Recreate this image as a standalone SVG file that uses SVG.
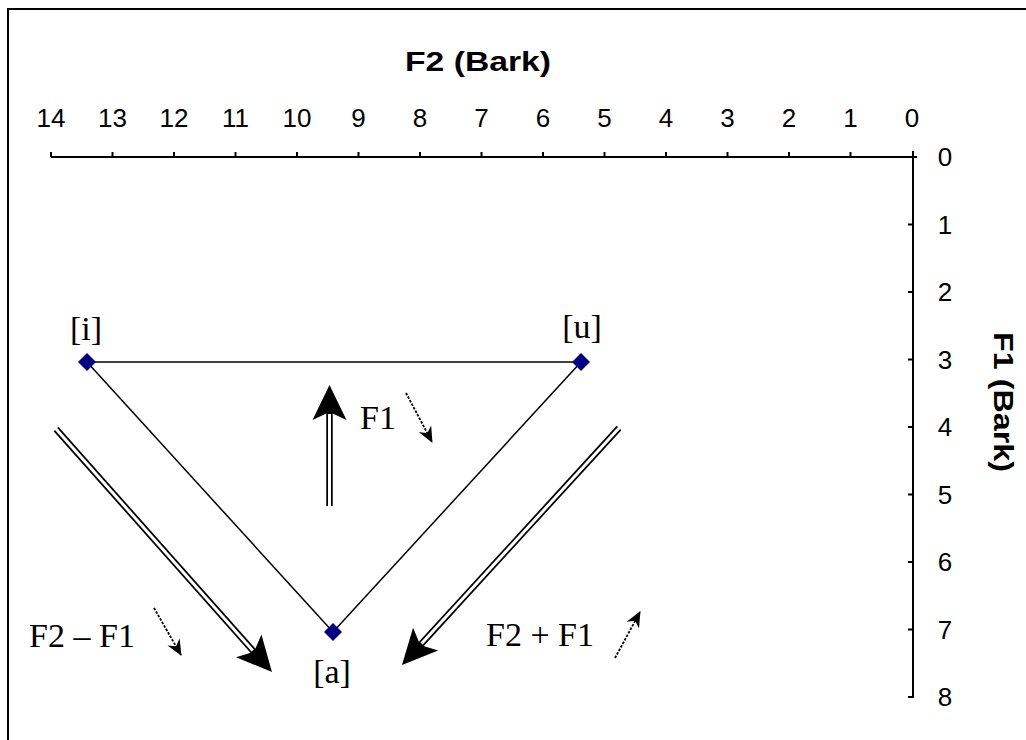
<svg xmlns="http://www.w3.org/2000/svg" width="1026" height="740" viewBox="0 0 1026 740">
<style>
.ax{stroke:#000;stroke-width:2;fill:none}
.num{font-family:"Liberation Sans",Arial,sans-serif;font-size:26px;fill:#000;text-anchor:middle}
.title{font-family:"Liberation Sans",Arial,sans-serif;font-size:27px;font-weight:bold;fill:#000;text-anchor:middle}
.lbl{font-family:"Liberation Serif","Times New Roman",serif;font-size:34px;fill:#000;text-anchor:middle}
.edge{stroke:#000;stroke-width:1.5;fill:none}
.outer{stroke:#000;stroke-width:6.5;fill:none}
.inner{stroke:#fff;stroke-width:3;fill:none}
.dot{stroke:#000;stroke-width:1.8;stroke-dasharray:2.5 1.5;fill:none}
.pt{fill:#000080}
</style>
<defs>
<marker id="big" markerUnits="userSpaceOnUse" orient="auto" refX="-20" refY="0" markerWidth="50" markerHeight="40" overflow="visible">
<path d="M0,0 L-35,-17 L-27,0 L-35,17 Z" fill="#000"/>
</marker>
<marker id="small" markerUnits="userSpaceOnUse" orient="auto" refX="0" refY="0" markerWidth="20" markerHeight="20" overflow="visible">
<path d="M1,0 L-15,-7 L-10,0 L-15,7 Z" fill="#000"/>
</marker>
<path id="dia" d="M0,-9 L9,0 L0,9 L-9,0 Z"/>
</defs>
<rect x="0" y="0" width="1026" height="740" fill="#fff"/>
<rect x="8" y="9" width="1040" height="760" class="ax"/>

<g id="f2-axis">
<text class="title" x="478" y="71" textLength="146" lengthAdjust="spacingAndGlyphs">F2 (Bark)</text>
<line class="ax" x1="51" y1="157" x2="917" y2="157"/>
<path class="ax" d="M51,152V157 M112.5,152V157 M174,152V157 M235.5,152V157 M297,152V157 M358.5,152V157 M420,152V157 M481.5,152V157 M543,152V157 M604.5,152V157 M666,152V157 M727.5,152V157 M789,152V157 M850.5,152V157"/>
<text class="num" x="51" y="127">14</text>
<text class="num" x="112.5" y="127">13</text>
<text class="num" x="174" y="127">12</text>
<text class="num" x="235.5" y="127">11</text>
<text class="num" x="297" y="127">10</text>
<text class="num" x="358.5" y="127">9</text>
<text class="num" x="420" y="127">8</text>
<text class="num" x="481.5" y="127">7</text>
<text class="num" x="543" y="127">6</text>
<text class="num" x="604.5" y="127">5</text>
<text class="num" x="666" y="127">4</text>
<text class="num" x="727.5" y="127">3</text>
<text class="num" x="789" y="127">2</text>
<text class="num" x="850.5" y="127">1</text>
<text class="num" x="912" y="127">0</text>
</g>

<g id="f1-axis">
<line class="ax" x1="913" y1="151" x2="913" y2="697"/>
<path class="ax" d="M908,224.5H913 M908,292H913 M908,359.5H913 M908,427H913 M908,494.5H913 M908,562H913 M908,629.5H913 M908,697H914"/>
<text class="num" x="945" y="166">0</text>
<text class="num" x="945" y="233.5">1</text>
<text class="num" x="945" y="301">2</text>
<text class="num" x="945" y="368.5">3</text>
<text class="num" x="945" y="436">4</text>
<text class="num" x="945" y="503.5">5</text>
<text class="num" x="945" y="571">6</text>
<text class="num" x="945" y="638.5">7</text>
<text class="num" x="945" y="706">8</text>
<text class="title" transform="translate(994,402) rotate(90)" x="0" y="0" textLength="140" lengthAdjust="spacingAndGlyphs">F1 (Bark)</text>
</g>

<g id="connectors">
<line class="edge" x1="87" y1="362" x2="581" y2="362"/>
<line class="edge" x1="87" y1="362" x2="333" y2="632"/>
<line class="edge" x1="581" y1="362" x2="333" y2="632"/>

<line class="outer" x1="329.5" y1="506" x2="329.5" y2="405" marker-end="url(#big)"/>
<line class="inner" x1="329.5" y1="508" x2="329.5" y2="414"/>

<line class="outer" x1="56" y1="429" x2="258.7" y2="657.1" marker-end="url(#big)"/>
<line class="inner" x1="54.7" y1="427.5" x2="252.7" y2="650.4"/>

<line class="outer" x1="619" y1="428" x2="415.5" y2="650.2" marker-end="url(#big)"/>
<line class="inner" x1="620.4" y1="426.5" x2="421.6" y2="643.6"/>

<line class="dot" x1="406" y1="393" x2="432" y2="442" marker-end="url(#small)"/>
<line class="dot" x1="154" y1="608" x2="181" y2="655" marker-end="url(#small)"/>
<line class="dot" x1="615" y1="658" x2="640" y2="612" marker-end="url(#small)"/>
</g>

<g id="node-i">
<use href="#dia" x="87" y="362" class="pt"/>
<text class="lbl" x="86" y="340" font-size="32">[i]</text>
</g>
<g id="node-u">
<use href="#dia" x="581" y="362" class="pt"/>
<text class="lbl" x="582" y="338" font-size="32">[u]</text>
</g>
<g id="node-a">
<use href="#dia" x="333" y="632" class="pt"/>
<text class="lbl" x="332" y="683" font-size="32">[a]</text>
</g>

<g id="label-f1">
<text class="lbl" x="378" y="429">F1</text>
</g>
<g id="label-f2-minus-f1">
<text class="lbl" x="82" y="647">F2 – F1</text>
</g>
<g id="label-f2-plus-f1">
<text class="lbl" x="540" y="646">F2 + F1</text>
</g>
</svg>
